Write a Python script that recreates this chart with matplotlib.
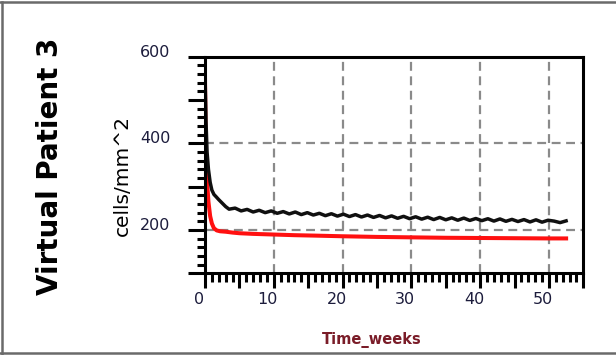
import numpy as np
import matplotlib
matplotlib.use("Agg")
import matplotlib.pyplot as plt
from matplotlib.ticker import MultipleLocator, FuncFormatter
from matplotlib.transforms import ScaledTranslation
from matplotlib.lines import Line2D

# ---------------- data ----------------
black_t_early = [0.0, 0.15, 0.3, 0.5, 0.75, 1.0, 1.3, 1.6, 2.0, 2.5, 3.0]
black_v_early = [560, 450, 380, 340, 310, 292, 282, 277, 270, 262, 254]

black_t_late = np.arange(3.5, 52.5 + 1e-9, 0.875)
black_v_late = [248, 250.5, 244, 247.5, 241.5, 245.5, 240, 244, 238.5, 242.5,
                237, 241.5, 235.5, 240, 234.5, 238.5, 233, 237.5, 232, 236.5,
                231, 235.5, 230, 234.5, 229, 233.5, 228, 232.5, 227, 231.5,
                226, 230.5, 225, 229.5, 224, 229, 223.5, 228, 222.5, 227.5,
                222, 226.5, 221.5, 226, 220.5, 225.5, 220, 224.5, 219.5, 224,
                218.5, 223.5, 218, 222.5, 220.5, 217, 221]

red_t = [0, 0.1, 0.2, 0.35, 0.5, 0.75, 1.0, 1.3, 1.7, 2.2, 3, 4, 5, 7, 10,
         13, 16, 20, 25, 30, 35, 40, 45, 50, 52.5]
red_v = [550, 400, 355, 300, 265, 232, 215, 204, 199, 197, 196, 194, 192.5,
         191, 189.5, 188, 187, 185.5, 184, 183, 182, 181.5, 181, 180.5, 180.5]

x_labeled = [0, 10, 20, 30, 40, 50]
y_labeled = [200, 400, 600]
x_grid = [10, 20, 30, 40, 50]
y_grid = [200, 400]

title = "Virtual Patient 3"
ylabel = "cells/mm^2"
xlabel = "Time_weeks"

# ---------------- figure ----------------
W, H, DPI = 616, 355, 100
fig = plt.figure(figsize=(W / DPI, H / DPI), dpi=DPI)
fig.patch.set_facecolor("white")

ax = fig.add_axes([205 / W, 1 - 273.3 / H, (583.3 - 205) / W, (273.3 - 56.7) / H])
ax.set_xlim(0, 55)
ax.set_ylim(100, 600)

black_t = list(black_t_early) + list(black_t_late)
black_v = list(black_v_early) + list(black_v_late)

for xg in x_grid:
    ax.axvline(xg, color="#8a8a8a", lw=1.6, ls=(0, (4, 2.5)), zorder=1)
for yg in y_grid:
    ax.axhline(yg, color="#8a8a8a", lw=1.6, ls=(0, (4, 2.5)), zorder=1)

ax.plot(red_t, red_v, color="#ff1010", lw=2.9, zorder=3, solid_joinstyle="round")
ax.plot(black_t, black_v, color="#101010", lw=2.5, zorder=4, solid_joinstyle="round")

for s in ax.spines.values():
    s.set_linewidth(2.2)
    s.set_color("black")
    s.set_zorder(6)

ax.xaxis.set_major_locator(MultipleLocator(5))
ax.xaxis.set_minor_locator(MultipleLocator(1))
ax.yaxis.set_major_locator(MultipleLocator(100))
ax.yaxis.set_minor_locator(MultipleLocator(20))

ax.xaxis.set_major_formatter(FuncFormatter(lambda v, p: f"{int(round(v))}" if int(round(v)) in x_labeled else ""))
ax.yaxis.set_major_formatter(FuncFormatter(lambda v, p: f"{int(round(v))}" if int(round(v)) in y_labeled else ""))

ax.tick_params(axis="x", which="major", direction="out", length=10.5, width=2.2, pad=3,
               labelsize=11.5, labelcolor="#1c1c3c")
ax.tick_params(axis="x", which="minor", direction="out", length=6.5, width=2.2)
ax.tick_params(axis="y", which="major", direction="out", length=12, width=2.2, pad=13,
               labelsize=11.5, labelcolor="#1c1c3c")
ax.tick_params(axis="y", which="minor", direction="out", length=6, width=2.2)

for lab in ax.get_xticklabels():
    lab.set_transform(lab.get_transform() + ScaledTranslation(-6 / DPI, 0, fig.dpi_scale_trans))
for lab in ax.get_yticklabels():
    lab.set_transform(lab.get_transform() + ScaledTranslation(0, 6 / DPI, fig.dpi_scale_trans))

fig.text(50 / W, 1 - 166.5 / H, title, rotation=90, ha="center", va="center",
         fontsize=20, fontweight="bold", color="black")
fig.text(122 / W, 1 - 176 / H, ylabel, rotation=90, ha="center", va="center",
         fontsize=14.5, color="black")
fig.text(372 / W, 1 - 340 / H, xlabel, ha="center", va="center",
         fontsize=10.5, fontweight="bold", color="#7a1c28")

# outer frame (left, top, bottom)
bc = "#6a6a6a"
fig.add_artist(Line2D([1.5 / W, 1.5 / W], [1.5 / H, 1 - 1.5 / H], color=bc, lw=1.8))
fig.add_artist(Line2D([0, 1], [1 - 1.5 / H, 1 - 1.5 / H], color=bc, lw=1.8))
fig.add_artist(Line2D([0, 1], [2 / H, 2 / H], color=bc, lw=1.8))

fig.savefig("out.png", dpi=DPI)
